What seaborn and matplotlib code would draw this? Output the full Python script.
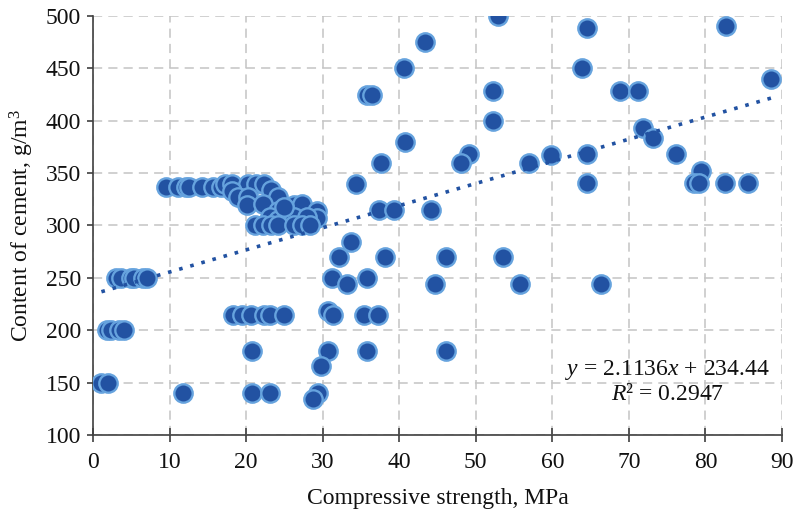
import matplotlib
matplotlib.use("Agg")
import matplotlib.pyplot as plt
import seaborn as sns
import numpy as np
import pandas as pd

# Compressive strength (MPa) and cement content (g/m3)
strength = [
    9.6, 11.1, 12.2, 12.6, 14.2, 15.7, 16.7, 17.2, 18.2, 20.3, 21.3, 22.3,
    18.1, 23.2, 19.0, 20.2, 24.2, 20.1, 22.2, 26.2, 27.3, 29.2, 24.2, 23.1,
    24.2, 29.2, 26.2, 27.9, 21.2, 22.2, 23.2, 24.2, 26.3, 27.3, 28.3, 25.0,
    3.0, 3.6, 5.0, 5.3, 6.5, 7.0,
    1.8, 2.3, 3.4, 4.0,
    1.1, 1.9,
    11.7, 20.8, 20.8, 23.1,
    18.3, 19.5, 20.6, 22.3, 23.1, 24.9, 30.7, 31.4,
    30.7, 29.8, 29.4, 28.7,
    34.4, 37.3, 39.3, 44.2, 33.7, 32.1, 38.1, 46.1, 53.5,
    31.2, 33.2, 35.8, 44.7, 55.8, 35.4, 37.2, 35.8, 46.1,
    52.9, 43.4, 40.6, 35.8, 36.4, 52.3, 52.2, 40.8, 37.6, 49.1, 48.1, 56.9, 59.8,
    64.5, 82.7, 63.9, 68.9, 71.2, 88.6, 71.9, 73.1, 64.5, 76.1, 79.4,
    78.5, 79.2, 64.5, 82.6, 85.6, 66.4,
]
cement = [
    337, 337, 337, 337, 337, 337, 337, 340, 340, 340, 340, 340,
    333, 334, 327, 327, 327, 320, 321, 320, 321, 314, 314, 308,
    305, 307, 308, 308, 300, 300, 300, 300, 300, 300, 300, 318,
    250, 250, 250, 250, 250, 250,
    200, 200, 200, 200,
    150, 150,
    140, 180, 140, 140,
    215, 215, 215, 215, 215, 215, 218, 215,
    180, 166, 140, 134,
    340, 315, 315, 315, 284, 270, 270, 270, 270,
    250, 244, 250, 244, 244, 215, 215, 180, 180,
    500, 475, 450, 425, 425, 428, 400, 380, 360, 368, 360, 360, 367,
    489, 490, 450, 428, 428, 440, 393, 384, 368, 368, 352,
    341, 341, 341, 341, 341, 244,
]

# Trendline from the chart's equation
slope = 2.1136
intercept = 234.44
r_squared = 0.2947

df = pd.DataFrame({"strength": strength, "cement": cement})
trend_x = np.array([min(strength), max(strength)])
trend = pd.DataFrame({"x": trend_x, "y": slope * trend_x + intercept})

sns.set_theme(style="white")
plt.rcParams["font.family"] = ["Liberation Serif", "DejaVu Serif"]
plt.rcParams["mathtext.fontset"] = "custom"
plt.rcParams["mathtext.rm"] = "Liberation Serif"
plt.rcParams["mathtext.it"] = "Liberation Serif:italic"

fig = plt.figure(figsize=(8.05, 5.17), dpi=100)
ax = fig.add_axes([93 / 805, 1 - 435 / 517, (782 - 93) / 805, (435 - 16) / 517])

ax.grid(True, color="#c4c4c4", linestyle=(0, (6, 4)), linewidth=1.1)
ax.set_axisbelow(True)

sns.scatterplot(data=df, x="strength", y="cement", ax=ax, s=175,
                color="#2252a2", edgecolor="#66a3de", linewidth=1.7, zorder=3)
sns.lineplot(data=trend, x="x", y="y", ax=ax, color="#2252a2",
             linestyle=(0, (1, 2.2)), linewidth=2.6, zorder=4)

ax.set_xlim(0, 90)
ax.set_ylim(100, 500)
ax.set_xticks(range(0, 91, 10))
ax.set_yticks(range(100, 501, 50))

for side in ["top", "right"]:
    ax.spines[side].set_visible(False)
for side in ["left", "bottom"]:
    ax.spines[side].set_color("#404040")
    ax.spines[side].set_linewidth(1.2)

ax.tick_params(axis="both", width=1.2, color="#404040", labelsize=17,
               labelcolor="#111111", left=True, bottom=True)
ax.tick_params(axis="x", direction="inout", length=10, pad=7)
ax.tick_params(axis="y", direction="out", length=4.5, pad=4)

ax.set_xlabel("Compressive strength, MPa", fontsize=17, color="#111111", labelpad=11)
ax.set_ylabel("Content of cement, g/m$^3$", fontsize=17, color="#111111", labelpad=7)

ax.text(75.0, 162, "$y$ = 2.1136$x$ + 234.44", fontsize=17, ha="center",
        va="center", color="#111111", zorder=5)
ax.text(75.0, 139, "$R$\u00b2 = %.4f" % r_squared, fontsize=17, ha="center",
        va="center", color="#111111", zorder=5)

fig.savefig("out.png", dpi=100)
